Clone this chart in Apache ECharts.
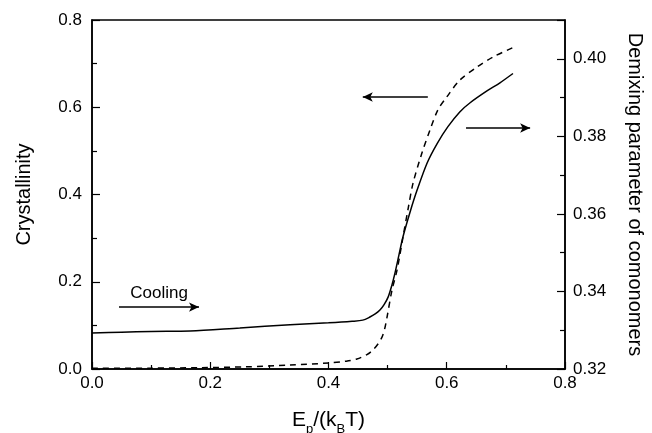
<!DOCTYPE html>
<html>
<head>
<meta charset="utf-8">
<script src="https://cdn.jsdelivr.net/npm/echarts@6/dist/echarts.min.js"></script>
<style>
html,body{margin:0;padding:0;background:#fff;}
#chart{width:652px;height:433px;}
</style>
</head>
<body>
<div id="chart"></div>
<script>
// Demixing parameter of comonomers (solid line, right axis)
var demixX = [0, 0.05, 0.1, 0.166, 0.25, 0.335, 0.40, 0.44, 0.458, 0.470, 0.479, 0.487, 0.494, 0.501, 0.507, 0.5125, 0.519, 0.526, 0.538, 0.550, 0.567, 0.584, 0.602, 0.622, 0.639, 0.668, 0.690, 0.712];
var demixY = [0.3293, 0.3295, 0.3297, 0.3298, 0.3306, 0.3314, 0.3319, 0.3323, 0.3326, 0.3334, 0.3342, 0.3352, 0.3366, 0.3386, 0.3415, 0.3448, 0.3493, 0.3541, 0.3605, 0.3662, 0.3732, 0.3782, 0.3825, 0.3863, 0.3886, 0.3917, 0.3938, 0.3962];
// Crystallinity (dashed line, left axis)
var crystX = [0, 0.1, 0.183, 0.26, 0.335, 0.4025, 0.43, 0.448, 0.465, 0.475, 0.484, 0.4905, 0.495, 0.499, 0.5074, 0.516, 0.526, 0.535, 0.543, 0.558, 0.5717, 0.585, 0.600, 0.622, 0.651, 0.678, 0.714];
var crystY = [0.002, 0.002, 0.003, 0.005, 0.009, 0.014, 0.018, 0.023, 0.033, 0.0435, 0.058, 0.073, 0.092, 0.119, 0.181, 0.227, 0.3026, 0.37, 0.426, 0.495, 0.548, 0.594, 0.6235, 0.662, 0.692, 0.715, 0.738];
// Annotation arrows (data coordinates, left axis)
var coolingArrow = [[0.0457, 0.142], [0.181, 0.142]];
var leftArrow = [[0.568, 0.6235], [0.458, 0.6235]];
var rightArrow = [[0.6326, 0.5524], [0.741, 0.5524]];
var xTicks = {min: 0, max: 0.8, interval: 0.2};
var yLeftTicks = {min: 0, max: 0.8, interval: 0.2};
var yRightTicks = {min: 0.32, max: 0.41, interval: 0.02};

function pairs(xs, ys) { return xs.map(function (x, i) { return [x, ys[i]]; }); }

var FONT = "'Liberation Sans', Arial, Helvetica, sans-serif";
var axisLine = {show: true, lineStyle: {color: '#000', width: 1.5}};
var chart = echarts.init(document.getElementById('chart'), null, {renderer: 'canvas'});
var arrowStyle = {color: '#000', width: 1.5, type: 'solid'};
chart.setOption({
  animation: false,
  backgroundColor: '#fff',
  textStyle: {fontFamily: FONT},
  grid: {left: 92, right: 87, top: 20, bottom: 64, containLabel: false, outerBoundsMode: 'none', show: true, borderColor: '#000', borderWidth: 1.5, backgroundColor: 'transparent'},
  xAxis: {
    type: 'value', min: xTicks.min, max: xTicks.max, interval: xTicks.interval,
    axisLine: axisLine,
    axisTick: {show: true, inside: true, length: 7, lineStyle: {color: '#000', width: 1.2}},
    minorTick: {show: true, splitNumber: 2, length: 4, lineStyle: {color: '#000', width: 1.2}},
    splitLine: {show: false},
    axisLabel: {color: '#000', fontSize: 17, fontFamily: FONT, margin: 6, formatter: function (v) { return v.toFixed(1); }},
    name: '{m|E}{s|p}{m|/(k}{s|B}{m|T)}',
    nameLocation: 'middle', nameGap: 36,
    nameTextStyle: {
      color: '#000', fontFamily: FONT,
      rich: {
        m: {fontSize: 21, color: '#000', fontFamily: FONT},
        s: {fontSize: 13, color: '#000', fontFamily: FONT, padding: [18, 0, 0, 0]}
      }
    }
  },
  yAxis: [
    {
      type: 'value', position: 'left', min: yLeftTicks.min, max: yLeftTicks.max, interval: yLeftTicks.interval,
      axisLine: axisLine,
      axisTick: {show: true, inside: true, length: 8, lineStyle: {color: '#000', width: 1.2}},
      minorTick: {show: true, splitNumber: 2, length: 5, lineStyle: {color: '#000', width: 1.2}},
      splitLine: {show: false},
      axisLabel: {color: '#000', fontSize: 17, fontFamily: FONT, margin: 10, formatter: function (v) { return v.toFixed(1); }},
      name: 'Crystallinity', nameLocation: 'middle', nameRotate: 90, nameGap: 58,
      nameTextStyle: {color: '#000', fontSize: 20, fontFamily: FONT}
    },
    {
      type: 'value', position: 'right', min: yRightTicks.min, max: yRightTicks.max, interval: yRightTicks.interval,
      axisLine: axisLine,
      axisTick: {show: true, inside: true, length: 8, lineStyle: {color: '#000', width: 1.2}},
      minorTick: {show: true, splitNumber: 2, length: 5, lineStyle: {color: '#000', width: 1.2}},
      splitLine: {show: false},
      axisLabel: {color: '#000', fontSize: 17, fontFamily: FONT, margin: 8, showMaxLabel: false, formatter: function (v) { return v.toFixed(2); }},
      name: 'Demixing parameter of comonomers', nameLocation: 'middle', nameRotate: -90, nameGap: 60,
      nameTextStyle: {color: '#000', fontSize: 20, fontFamily: FONT}
    }
  ],
  series: [
    {
      name: 'Crystallinity', type: 'line', yAxisIndex: 0, showSymbol: false, symbol: 'none', smooth: 0.3,
      data: pairs(crystX, crystY),
      lineStyle: {color: '#000', width: 1.5, type: [6, 5]},
      markLine: {
        silent: true, animation: false,
        symbol: ['none', 'arrow'], symbolSize: [7, 10],
        lineStyle: arrowStyle,
        itemStyle: {color: '#000'},
        label: {show: false},
        data: [
          [{coord: coolingArrow[0], label: {show: true, formatter: 'Cooling', position: 'middle', color: '#000', fontSize: 17, fontFamily: FONT, distance: 5}}, {coord: coolingArrow[1]}],
          [{coord: leftArrow[0]}, {coord: leftArrow[1]}],
          [{coord: rightArrow[0]}, {coord: rightArrow[1]}]
        ]
      }
    },
    {
      name: 'Demixing', type: 'line', yAxisIndex: 1, showSymbol: false, symbol: 'none', smooth: 0.3,
      data: pairs(demixX, demixY),
      lineStyle: {color: '#000', width: 1.5, type: 'solid'}
    }
  ]
});
</script>
</body>
</html>
